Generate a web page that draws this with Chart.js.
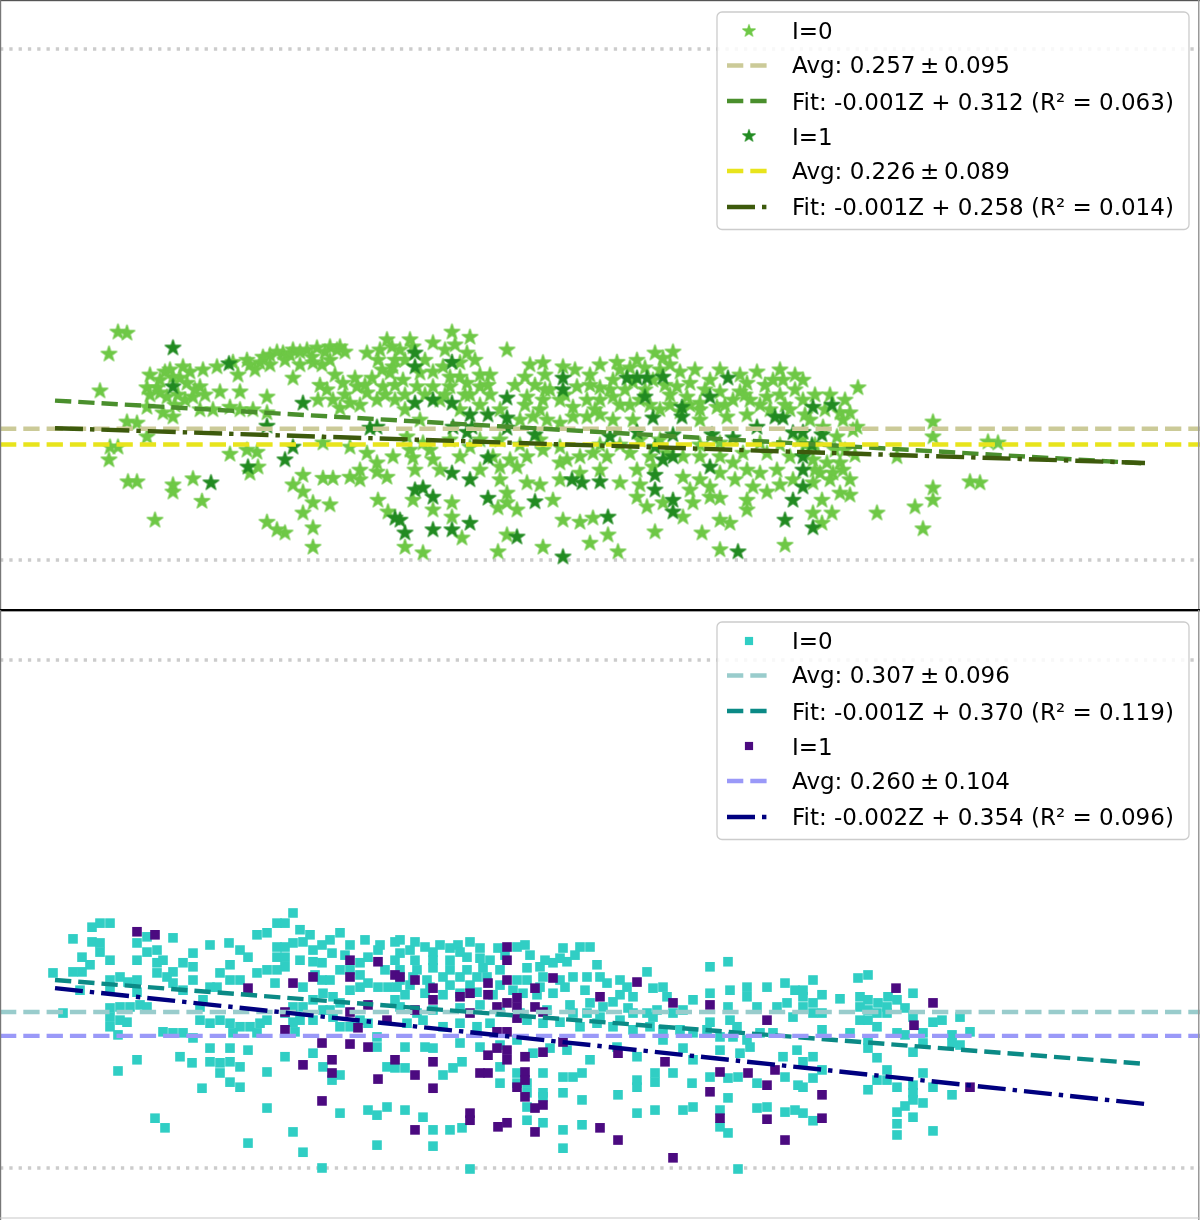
<!DOCTYPE html>
<html><head><meta charset="utf-8">
<script src="https://cdn.jsdelivr.net/npm/chart.js@4.4.1/dist/chart.umd.min.js"></script>
<style>
html,body{margin:0;padding:0;background:#fff;}
#wrap{width:1200px;height:1220px;position:relative;overflow:hidden;}
canvas{display:block;position:absolute;left:0;}
#c1{top:0;} #c2{top:610px;}
</style></head><body>
<div id="wrap"><canvas id="c1" width="1200" height="610"></canvas><canvas id="c2" width="1200" height="610"></canvas></div>
<script>
// ---------------- DATA ----------------
const xRange = [-5.5, 114.5];
const refLevels = [0, 1];
const fitZ = [0, 109];

// top panel (stars)
const topLabels = ['I=0', 'Avg: 0.257\u2009\u00b1\u20090.095', 'Fit: -0.001Z + 0.312 (R\u00b2 = 0.063)', 'I=1', 'Avg: 0.226\u2009\u00b1\u20090.089', 'Fit: -0.001Z + 0.258 (R\u00b2 = 0.014)'];
const topAvg = [0.257, 0.226];
const topFit0 = [0.312, 0.189];
const topFit1 = [0.258, 0.190];
const topI0 = [
[6.3,0.446],[7.2,0.444],[5.4,0.403],[4.5,0.331],[11.0,0.368],[12.8,0.378],[10.2,0.337],[11.8,0.358],[13.2,0.346],[14.5,0.339],[13.8,0.319],[9.2,0.337],[11.2,0.319],[12.3,0.323],[14.8,0.372],[16.2,0.378],[17.8,0.387],[19.2,0.391],[20.5,0.386],[21.5,0.401],[22.8,0.405],[23.8,0.411],[25.2,0.411],[26.2,0.415],[27.5,0.417],[28.5,0.417],[18.3,0.362],[16.5,0.329],[18.5,0.329],[21.2,0.319],[23.8,0.356],[25.8,0.386],[26.7,0.382],[9.2,0.299],[10.8,0.288],[11.8,0.280],[14.5,0.294],[15.8,0.294],[17.5,0.299],[18.5,0.294],[19.8,0.294],[21.2,0.288],[27.2,0.333],[28.8,0.346],[30.2,0.339],[31.2,0.327],[32.2,0.313],[27.8,0.313],[29.5,0.307],[32.8,0.339],[33.5,0.366],[33.2,0.431],[32.3,0.391],[33.7,0.417],[7.2,0.270],[8.2,0.268],[9.2,0.241],[5.5,0.221],[6.3,0.221],[5.4,0.196],[7.3,0.153],[8.2,0.153],[11.8,0.147],[11.8,0.133],[13.8,0.159],[14.7,0.115],[10.0,0.078],[17.5,0.207],[19.2,0.215],[20.2,0.211],[20.3,0.182],[19.5,0.170],[24.8,0.166],[23.8,0.147],[24.8,0.133],[25.8,0.112],[27.5,0.108],[24.8,0.092],[25.8,0.063],[25.8,0.025],[21.2,0.074],[22.2,0.059],[23.0,0.053],[26.8,0.160],[27.8,0.160],[29.5,0.162],[30.5,0.176],[30.5,0.157],[32.2,0.172],[33.2,0.162],[32.3,0.117],[33.3,0.094],[31.2,0.209],[32.2,0.190],[33.8,0.202],[26.8,0.229],[29.5,0.221],[31.2,0.405],[32.7,0.372],[33.8,0.378],
[39.7,0.446],[41.5,0.436],[37.8,0.425],[45.2,0.411],[35.8,0.417],[34.5,0.411],[41.2,0.405],[40.5,0.386],[38.8,0.378],[37.8,0.368],[36.5,0.366],[34.8,0.352],[36.2,0.339],[37.8,0.339],[39.5,0.339],[41.2,0.346],[42.5,0.339],[43.3,0.342],[40.5,0.358],[39.5,0.358],[48.8,0.386],[50.8,0.378],[54.5,0.382],[56.2,0.387],[58.2,0.391],[60.0,0.405],[61.8,0.407],[60.8,0.395],[47.0,0.358],[52.2,0.339],[54.5,0.337],[55.8,0.352],[57.8,0.348],[59.8,0.352],[62.2,0.339],[63.5,0.346],[65.5,0.352],[70.2,0.368],[71.8,0.352],[72.8,0.352],[69.2,0.346],[71.2,0.319],[47.2,0.319],[48.8,0.313],[50.5,0.313],[51.8,0.299],[53.2,0.313],[54.5,0.313],[55.8,0.319],[63.2,0.319],[64.5,0.307],[66.2,0.299],[67.8,0.313],[69.5,0.313],[46.5,0.274],[47.8,0.280],[49.2,0.274],[50.5,0.268],[51.8,0.280],[53.2,0.280],[54.5,0.284],[55.8,0.274],[57.8,0.274],[64.5,0.274],[67.2,0.280],[69.2,0.284],[35.2,0.241],[36.8,0.229],[39.5,0.235],[44.5,0.235],[35.8,0.200],[37.8,0.196],[40.5,0.202],[43.8,0.202],[45.5,0.196],[47.2,0.202],[48.8,0.215],[51.2,0.196],[52.5,0.202],[53.8,0.209],[55.2,0.202],[57.5,0.209],[59.5,0.202],[61.2,0.209],[62.8,0.202],[64.5,0.202],[66.5,0.202],[68.8,0.209],[71.2,0.209],[73.5,0.202],[42.5,0.176],[44.5,0.182],[46.2,0.182],[47.2,0.151],[50.5,0.190],[52.5,0.170],[54.5,0.176],[58.2,0.176],[59.8,0.182],[62.8,0.162],[64.5,0.157],[66.5,0.170],[67.8,0.190],[69.2,0.176],[70.5,0.170],[72.2,0.176],[73.8,0.157],[69.8,0.143],[71.2,0.133],[35.8,0.117],[37.8,0.098],[39.7,0.112],[39.7,0.084],[45.2,0.131],[45.2,0.112],[44.3,0.102],[46.2,0.098],[49.8,0.117],[58.2,0.123],[59.2,0.104],[60.8,0.112],[63.8,0.112],[65.5,0.123],[66.5,0.121],[69.2,0.117],[69.2,0.098],[50.8,0.078],[52.5,0.074],[53.8,0.082],[62.8,0.084],[66.5,0.078],[67.5,0.072],[35.0,0.025],[36.8,0.014],[40.7,0.043],[45.2,0.049],[48.8,0.025],[53.5,0.033],[55.3,0.049],[56.3,0.016],[60.0,0.055],[64.7,0.053],[66.5,0.020],[73.0,0.029],[44.3,0.016],
[38.5,0.313],[40.5,0.294],[42.5,0.303],[44.5,0.294],[56.5,0.303],[58.5,0.313],[60.5,0.294],[62.5,0.290],[66.5,0.329],[68.5,0.329],[70.5,0.303],[72.5,0.323],[73.5,0.294],[74.0,0.333],[35.0,0.294],[36.5,0.274],[41.5,0.323],[43.5,0.323],[46.0,0.342],[48.0,0.342],[49.5,0.333],[53.5,0.342],[57.0,0.333],[59.0,0.333],[61.5,0.323],[65.0,0.333],
[74.8,0.352],[80.3,0.337],[74.8,0.313],[78.5,0.288],[79.5,0.288],[78.8,0.274],[76.8,0.260],[78.2,0.241],[79.8,0.254],[80.2,0.260],[87.8,0.270],[87.8,0.241],[93.3,0.231],[94.3,0.229],[84.2,0.202],[75.8,0.196],[77.2,0.190],[78.5,0.190],[76.5,0.170],[77.8,0.170],[78.8,0.176],[75.8,0.151],[77.5,0.157],[76.7,0.117],[78.5,0.131],[79.5,0.127],[75.8,0.092],[77.7,0.092],[76.7,0.072],[87.8,0.141],[87.8,0.117],[86.0,0.104],[86.8,0.061],[82.2,0.092],[91.5,0.153],[92.5,0.151],[75.5,0.274],[77.5,0.323],[79.0,0.313],[76.0,0.225],[74.5,0.235],
[20.8,0.397],[22.2,0.407],[23.5,0.401],[24.5,0.407],[25.7,0.397],[27.0,0.407],[28.2,0.411],[29.0,0.407],[21.5,0.382],[23.0,0.391],[19.5,0.382],[20.0,0.372],[24.5,0.382],[27.5,0.391],[9.5,0.362],[10.5,0.352],[11.5,0.372],[12.5,0.356],[13.5,0.368],[14.0,0.333],[13.0,0.313],[10.5,0.327],[9.5,0.323],[15.0,0.323],[12.0,0.303],[26.5,0.342],[28.0,0.362],[29.0,0.323],[30.0,0.356],[31.0,0.342],[31.7,0.356],[33.0,0.323],[34.0,0.313],[28.5,0.297],[30.5,0.303],[26.3,0.313],[34.0,0.342],[32.5,0.411],[34.0,0.391],
[35.0,0.391],[37.0,0.391],[39.0,0.411],[40.0,0.421],[42.0,0.391],[35.0,0.323],[37.0,0.323],[39.0,0.323],[41.0,0.323],[42.5,0.362],[43.5,0.362],[35.5,0.431],[47.5,0.382],[49.0,0.362],[52.0,0.372],[53.5,0.362],[56.5,0.372],[57.5,0.376],[59.0,0.376],[60.5,0.372],[61.5,0.382],[62.5,0.368],[49.0,0.333],[51.0,0.323],[54.0,0.294],[55.5,0.333],[57.5,0.303],[59.5,0.303],[61.5,0.303],[63.5,0.303],[61.0,0.342],[48.5,0.294],[47.0,0.303],[64.0,0.372],[66.5,0.372],[68.5,0.362],[71.0,0.342],[72.5,0.372],[74.0,0.362],[67.0,0.303],[69.0,0.323],[71.5,0.294],[73.0,0.303],[64.5,0.294],
[35.5,0.215],[37.5,0.215],[41.5,0.221],[42.5,0.235],[46.5,0.225],[48.5,0.235],[50.5,0.221],[54.5,0.225],[56.5,0.225],[58.5,0.235],[60.5,0.235],[64.5,0.225],[66.5,0.229],[70.5,0.229],[72.5,0.225],[36.0,0.176],[38.5,0.176],[44.5,0.157],[48.5,0.147],[50.5,0.157],[56.5,0.151],[58.5,0.147],[63.5,0.137],[65.5,0.143],[68.0,0.157],[72.5,0.147],[75.0,0.284],[76.0,0.323],[77.0,0.294],[79.0,0.215],[80.0,0.205],[78.0,0.215],[76.0,0.176],[79.5,0.157],[75.0,0.225]
];
const topI1 = [
[11.8,0.415],[17.4,0.384],[11.8,0.339],[24.8,0.307],[21.2,0.262],[31.5,0.258],[32.2,0.260],[23.8,0.221],[23.0,0.196],[19.3,0.182],[15.6,0.151],[34.0,0.082],[36.0,0.405],[36.0,0.378],[39.7,0.387],[50.8,0.356],[50.8,0.333],[57.2,0.356],[58.2,0.356],[59.2,0.356],[60.8,0.358],[59.0,0.319],[67.3,0.356],[45.2,0.317],[36.0,0.307],[37.8,0.313],[39.7,0.307],[41.5,0.284],[43.3,0.284],[45.2,0.278],[45.2,0.258],[41.7,0.260],[62.7,0.299],[62.7,0.280],[65.5,0.319],[59.8,0.278],[72.0,0.280],[72.8,0.278],[70.2,0.260],[73.8,0.249],[39.8,0.260],[41.2,0.250],[48.0,0.245],[55.5,0.241],[65.7,0.245],[67.8,0.239],[58.2,0.250],[61.8,0.245],[60.0,0.221],[60.8,0.196],[61.8,0.202],[43.3,0.200],[65.5,0.182],[39.7,0.170],[41.5,0.157],[51.7,0.157],[52.7,0.151],[54.5,0.153],[60.0,0.166],[60.0,0.137],[36.0,0.137],[36.8,0.141],[37.8,0.123],[43.3,0.121],[48.0,0.114],[61.8,0.117],[61.8,0.094],[73.8,0.117],[34.5,0.078],[35.0,0.053],[37.8,0.059],[39.7,0.059],[41.5,0.072],[46.2,0.045],[55.3,0.084],[73.0,0.078],[50.8,0.006],[68.3,0.016],[75.8,0.299],[77.7,0.303],[74.8,0.250],[76.7,0.245],[75.7,0.225],[74.8,0.202],[74.8,0.176],[74.8,0.143],[75.8,0.063]
];

// bottom panel (squares)
const botLabels = ['I=0', 'Avg: 0.307\u2009\u00b1\u20090.096', 'Fit: -0.001Z + 0.370 (R\u00b2 = 0.119)', 'I=1', 'Avg: 0.260\u2009\u00b1\u20090.104', 'Fit: -0.002Z + 0.354 (R\u00b2 = 0.096)'];
const botAvg = [0.307, 0.260];
const botFit0 = [0.370, 0.205];
const botFit1 = [0.354, 0.126];
const botI0 = [
[-0.2,0.384],[1.8,0.451],[3.7,0.474],[4.5,0.482],[5.5,0.482],[3.7,0.445],[4.5,0.443],[4.5,0.425],[2.7,0.415],[3.5,0.400],[1.8,0.386],[2.7,0.386],[0.8,0.305],[2.5,0.350],[5.5,0.409],[5.5,0.370],[6.5,0.376],[7.3,0.366],[8.2,0.370],[8.2,0.346],[5.5,0.350],[8.2,0.443],[9.2,0.455],[8.2,0.409],[9.2,0.425],[10.2,0.429],[10.2,0.404],[10.8,0.409],[10.2,0.384],[11.2,0.376],[11.8,0.453],[12.8,0.404],[13.8,0.423],[13.8,0.396],[13.8,0.370],[12.8,0.350],[11.8,0.364],[11.8,0.386],[5.5,0.315],[6.5,0.317],[5.5,0.297],[6.5,0.291],[7.2,0.287],[7.5,0.317],[8.5,0.321],[9.2,0.317],[5.5,0.278],[6.3,0.262],[8.2,0.213],[6.3,0.191],[10.0,0.098],[11.0,0.079],
[15.5,0.439],[17.4,0.443],[18.5,0.429],[17.5,0.400],[16.5,0.384],[17.5,0.370],[18.5,0.370],[16.2,0.356],[15.5,0.356],[14.8,0.331],[14.5,0.317],[14.5,0.291],[15.5,0.285],[16.5,0.291],[17.5,0.285],[18.5,0.278],[19.5,0.278],[20.5,0.285],[21.2,0.291],[20.2,0.266],[17.8,0.266],[10.8,0.268],[11.8,0.266],[12.8,0.266],[13.8,0.256],[12.5,0.219],[13.7,0.207],[15.5,0.236],[15.5,0.209],[16.5,0.207],[17.5,0.209],[17.5,0.236],[18.5,0.199],[16.5,0.187],[17.5,0.169],[18.5,0.159],[14.7,0.157],[19.3,0.232],[21.2,0.189],[21.2,0.118],[19.3,0.049],[23.0,0.219],[23.8,0.071],[24.8,0.031],
[19.3,0.415],[20.2,0.459],[21.2,0.463],[22.2,0.482],[23.0,0.482],[23.8,0.502],[22.2,0.435],[23.0,0.435],[22.2,0.415],[23.0,0.415],[23.8,0.443],[24.8,0.445],[25.8,0.429],[26.7,0.439],[27.7,0.423],[23.0,0.396],[22.2,0.390],[21.2,0.390],[20.2,0.384],[22.0,0.364],[24.8,0.356],[25.8,0.406],[26.7,0.404],[26.7,0.370],[27.5,0.370],[28.5,0.463],[28.5,0.390],[29.5,0.390],[30.5,0.404],[31.3,0.415],[32.3,0.429],[34.0,0.445],[34.0,0.409],[29.5,0.350],[30.5,0.356],[31.3,0.364],[32.3,0.356],[33.3,0.356],[34.2,0.356],[23.8,0.317],[24.8,0.317],[25.8,0.291],[26.8,0.311],[27.8,0.297],[28.5,0.278],[29.5,0.278],[30.5,0.291],[31.3,0.285],[28.5,0.325],[27.8,0.337],[26.8,0.344],[25.8,0.331],[24.5,0.291],[25.8,0.226],[26.8,0.199],[28.5,0.183],[27.7,0.173],[32.2,0.258],[32.2,0.238],[33.2,0.199],[34.0,0.197],[28.5,0.108],[31.3,0.114],[32.2,0.104],[33.2,0.120],[32.2,0.045],[26.7,0.000],[23.0,0.305],[23.8,0.287],[24.0,0.268],
[34.5,0.449],[36.0,0.445],[37.0,0.435],[37.8,0.425],[39.5,0.433],[40.3,0.439],[41.5,0.445],[34.5,0.423],[36.0,0.409],[37.8,0.409],[39.5,0.409],[41.2,0.415],[42.5,0.413],[43.5,0.409],[44.3,0.433],[46.2,0.435],[47.0,0.439],[34.5,0.390],[36.2,0.390],[37.8,0.394],[39.5,0.390],[41.2,0.390],[42.8,0.394],[44.5,0.390],[47.2,0.394],[48.5,0.396],[49.8,0.404],[51.2,0.406],[52.5,0.435],[53.5,0.435],[50.8,0.433],[34.5,0.370],[35.8,0.376],[37.2,0.370],[38.8,0.376],[40.5,0.376],[42.2,0.376],[43.2,0.376],[46.2,0.370],[47.2,0.370],[48.8,0.376],[50.5,0.370],[51.8,0.376],[53.2,0.376],[54.2,0.400],[54.5,0.376],[55.2,0.364],[56.5,0.370],[57.2,0.356],[59.2,0.386],[56.5,0.341],[57.8,0.337],[59.8,0.354],[60.8,0.356],[61.2,0.337],
[35.0,0.341],[37.0,0.344],[38.8,0.341],[40.5,0.344],[42.2,0.346],[43.8,0.341],[45.8,0.350],[46.8,0.344],[48.2,0.341],[49.8,0.344],[51.5,0.321],[53.5,0.325],[54.8,0.317],[55.8,0.327],[57.3,0.315],[59.2,0.305],[60.2,0.311],[34.5,0.317],[36.2,0.305],[37.8,0.311],[40.5,0.315],[42.5,0.321],[44.5,0.307],[46.5,0.305],[49.2,0.311],[51.8,0.305],[53.2,0.305],[54.5,0.297],[56.5,0.291],[57.8,0.305],[59.8,0.297],[61.8,0.305],[62.8,0.311],[63.8,0.331],[65.5,0.396],[67.3,0.406],[65.5,0.344],[67.5,0.350],[69.2,0.356],[71.2,0.356],[73.0,0.364],[74.0,0.350],[69.2,0.337],[70.2,0.317],[72.2,0.317],[73.2,0.325],[65.5,0.287],[67.3,0.317],[67.5,0.291],[68.2,0.278],[73.8,0.297],
[35.2,0.285],[36.8,0.291],[38.8,0.278],[40.5,0.285],[42.2,0.278],[43.5,0.285],[47.2,0.291],[48.8,0.285],[50.5,0.287],[52.5,0.278],[54.2,0.285],[55.8,0.278],[57.8,0.272],[59.5,0.278],[60.8,0.272],[62.5,0.272],[63.8,0.266],[65.2,0.272],[66.5,0.258],[67.8,0.258],[69.2,0.252],[70.5,0.266],[71.8,0.266],
[35.0,0.238],[37.0,0.238],[37.8,0.236],[40.5,0.246],[42.5,0.238],[44.5,0.242],[46.2,0.252],[47.8,0.226],[49.5,0.236],[51.2,0.232],[53.5,0.213],[56.2,0.238],[58.2,0.219],[60.8,0.252],[62.8,0.236],[63.8,0.213],[66.5,0.232],[68.5,0.226],[69.5,0.238],[72.8,0.219],[74.2,0.232],
[35.0,0.197],[38.8,0.183],[39.8,0.197],[40.7,0.209],[44.5,0.199],[46.2,0.187],[47.2,0.167],[44.5,0.167],[46.2,0.167],[48.8,0.187],[50.8,0.179],[51.8,0.179],[52.7,0.187],[50.8,0.148],[48.8,0.148],[47.2,0.148],[52.7,0.134],[56.3,0.144],[58.2,0.173],[58.2,0.159],[60.0,0.187],[60.0,0.169],[61.8,0.187],[63.7,0.167],[65.5,0.179],[67.3,0.177],[68.3,0.179],[70.2,0.167],[73.0,0.179],[74.3,0.163],[67.3,0.138],
[35.0,0.114],[36.8,0.100],[37.8,0.075],[39.5,0.075],[40.7,0.079],[47.2,0.120],[47.2,0.094],[48.8,0.140],[48.8,0.089],[50.8,0.075],[52.7,0.085],[58.2,0.108],[60.0,0.114],[62.8,0.114],[63.8,0.120],[66.5,0.114],[66.5,0.081],[67.3,0.069],[70.2,0.118],[71.2,0.120],[73.0,0.110],[74.0,0.114],[37.8,0.043],[50.8,0.039],[41.5,-0.002],[68.3,-0.002],
[74.8,0.350],[74.8,0.337],[75.8,0.370],[76.7,0.341],[78.5,0.333],[80.3,0.374],[81.3,0.380],[80.5,0.337],[81.3,0.331],[82.3,0.325],[83.3,0.337],[84.2,0.331],[85.8,0.344],[74.8,0.317],[75.8,0.325],[75.8,0.305],[76.7,0.305],[80.5,0.317],[81.3,0.311],[80.5,0.291],[81.3,0.291],[82.2,0.305],[83.2,0.317],[83.2,0.305],[82.2,0.278],[85.0,0.315],[85.8,0.297],[87.8,0.287],[88.7,0.291],[90.5,0.297],
[76.7,0.272],[79.5,0.266],[81.3,0.252],[84.2,0.266],[85.0,0.262],[86.8,0.266],[86.8,0.246],[89.7,0.262],[89.7,0.246],[91.5,0.268],[90.5,0.242],[85.8,0.228],[81.3,0.236],[82.2,0.217],
[74.8,0.209],[75.8,0.219],[76.7,0.193],[75.8,0.177],[74.8,0.159],[83.2,0.193],[82.2,0.173],[83.2,0.173],[81.3,0.154],[84.2,0.159],[85.8,0.163],[85.8,0.148],[86.8,0.187],[87.8,0.159],[89.7,0.144],[85.8,0.134],[85.0,0.122],[86.8,0.128],[84.2,0.110],[85.8,0.100],[84.2,0.087],[84.2,0.065],[87.8,0.073],[74.8,0.108],[75.8,0.093],
[35.5,0.429],[38.5,0.439],[40.5,0.425],[42.5,0.433],[45.0,0.419],[47.5,0.419],[49.0,0.409],[50.5,0.413],[52.0,0.419],[35.5,0.360],[37.5,0.356],[39.5,0.360],[41.5,0.360],[44.5,0.360],[48.5,0.356],[51.0,0.356],[53.0,0.350],[24.5,0.469],[25.5,0.459],[27.5,0.449],[29.5,0.439],[31.0,0.449],[32.5,0.439],[24.5,0.409],[26.0,0.380],[29.0,0.419],[30.5,0.380],[33.0,0.390],[34.0,0.331],[27.5,0.311]
];
const botI1 = [
[8.2,0.465],[10.0,0.459],[19.3,0.354],[23.8,0.364],[25.8,0.376],[29.5,0.409],[29.5,0.376],[32.3,0.406],[34.0,0.380],[23.0,0.307],[23.0,0.272],[29.5,0.307],[31.3,0.321],[30.3,0.276],[33.2,0.291],[26.7,0.246],[29.5,0.244],[31.3,0.238],[24.8,0.203],[27.7,0.213],[27.7,0.187],[32.3,0.175],[34.0,0.213],[26.7,0.132],
[45.2,0.435],[45.2,0.409],[36.0,0.370],[37.8,0.354],[37.8,0.331],[40.5,0.337],[41.5,0.344],[43.3,0.364],[43.3,0.341],[45.2,0.370],[48.0,0.354],[49.8,0.374],[54.5,0.337],[58.2,0.366],[61.8,0.325],[65.5,0.321],[34.5,0.376],[36.0,0.311],[41.5,0.305],[44.2,0.317],[45.2,0.325],[46.2,0.335],[46.2,0.317],[48.0,0.317],[48.8,0.307],[46.2,0.295],[44.2,0.268],[45.2,0.268],[50.8,0.248],[56.3,0.226],[61.0,0.209],[71.2,0.291],[72.0,0.193],[66.5,0.189],[69.3,0.187],[48.8,0.228],[47.0,0.219],[43.3,0.222],[44.2,0.236],[45.2,0.232],[45.2,0.213],[37.8,0.209],[36.0,0.183],[42.5,0.187],[43.3,0.187],[47.0,0.189],[47.0,0.173],[46.2,0.159],[47.0,0.140],[48.0,0.118],[48.8,0.124],[37.8,0.157],[41.5,0.108],[41.5,0.094],[44.3,0.081],[45.2,0.089],[36.0,0.075],[48.0,0.071],[54.5,0.079],[56.3,0.055],[61.8,0.020],[65.5,0.150],[66.5,0.098],[71.2,0.163],[71.2,0.096],[73.0,0.055],
[84.1,0.354],[87.8,0.325],[85.9,0.281],[76.7,0.144],[76.7,0.098],[91.5,0.159]
];

// ---------------- STYLE HELPERS ----------------
const C = {
  starLight:'#6ec846', starDark:'#228b22',
  avgTop0:'#cbca98', fitTop0:'#4a8f2d', avgTop1:'#e8e41c', fitTop1:'#3d5a0c',
  sqTeal:'#30cec4', sqPurple:'#4b0a80',
  avgBot0:'#99cccc', fitBot0:'#0b8a86', avgBot1:'#9a99f8', fitBot1:'#00007f',
  ref:'#cccccc'
};
const LW = 4.4;
const DASH = [16.3, 7];
const DASHDOT = [28, 7, 4.4, 7];

function makeStar(color, R) {
  const s = Math.ceil(R * 2 + 4);
  const c = document.createElement('canvas'); c.width = s; c.height = s;
  const g = c.getContext('2d');
  const cx = s / 2, cy = s / 2;
  g.beginPath();
  for (let i = 0; i < 10; i++) {
    const r = i % 2 === 0 ? R : R * 0.382;
    const a = -Math.PI / 2 + i * Math.PI / 5;
    g.lineTo(cx + r * Math.cos(a), cy + r * Math.sin(a));
  }
  g.closePath();
  g.fillStyle = color; g.fill();
  g.lineJoin = 'round'; g.lineWidth = 1.2; g.strokeStyle = color; g.stroke();
  return c;
}
const starLight = makeStar(C.starLight, 8.2);
const starDark = makeStar(C.starDark, 8.2);

const pts = arr => arr.map(p => ({x: p[0], y: p[1]}));
const hline = v => [{x: xRange[0], y: v}, {x: xRange[1], y: v}];
const fitLine = vals => [{x: fitZ[0], y: vals[0]}, {x: fitZ[1], y: vals[1]}];

function lineDs(label, data, color, dash, order, width) {
  return {label, data, showLine: true, borderColor: color, borderWidth: width || LW, borderDash: dash,
    borderCapStyle: 'butt', pointRadius: 0, pointHoverRadius: 0, fill: false, order, tension: 0};
}
function scatterDs(label, data, style, color, radius, order) {
  return {label, data, showLine: false, pointStyle: style, pointRadius: radius, pointHoverRadius: radius,
    backgroundColor: color, borderColor: color, pointBorderWidth: 0, borderWidth: 0, order};
}

// ---------------- PLUGINS ----------------
const rowY = [31, 65.5, 101, 136, 171, 207];
const rowBase = [39.3, 73.3, 110, 145, 178.5, 215];
const mplLegend = {
  id: 'mplLegend',
  afterDraw(chart, args, o) {
    if (!o || !o.items) return;
    const ctx = chart.ctx; ctx.save();
    const [x0, y0, x1, y1] = o.box, r = 5;
    ctx.beginPath();
    ctx.moveTo(x0 + r, y0); ctx.lineTo(x1 - r, y0); ctx.arcTo(x1, y0, x1, y0 + r, r);
    ctx.lineTo(x1, y1 - r); ctx.arcTo(x1, y1, x1 - r, y1, r);
    ctx.lineTo(x0 + r, y1); ctx.arcTo(x0, y1, x0, y1 - r, r);
    ctx.lineTo(x0, y0 + r); ctx.arcTo(x0, y0, x0 + r, y0, r); ctx.closePath();
    ctx.fillStyle = 'rgba(255,255,255,0.85)'; ctx.fill();
    ctx.lineWidth = 1.3; ctx.strokeStyle = '#cccccc'; ctx.stroke();
    o.items.forEach((it, i) => {
      const ds = chart.data.datasets[it.ds];
      const cy = rowY[i];
      if (it.kind === 'marker') {
        if (ds.pointStyle instanceof HTMLCanvasElement) {
          const w = ds.pointStyle.width * 0.8, h = ds.pointStyle.height * 0.8;
          ctx.drawImage(ds.pointStyle, 749 - w / 2, cy - h / 2, w, h);
        } else {
          const side = ds.pointRadius * Math.SQRT2 * 0.85;
          ctx.fillStyle = ds.backgroundColor; ctx.fillRect(749 - side / 2, cy - side / 2, side, side);
        }
      } else {
        ctx.beginPath(); ctx.setLineDash(ds.borderDash || []); ctx.lineDashOffset = 0;
        ctx.lineCap = 'butt'; ctx.lineWidth = ds.borderWidth; ctx.strokeStyle = ds.borderColor;
        ctx.moveTo(727, cy); ctx.lineTo(769, cy); ctx.stroke(); ctx.setLineDash([]);
      }
      ctx.fillStyle = '#000'; ctx.font = '23px "DejaVu Sans"'; ctx.textBaseline = 'alphabetic'; ctx.textAlign = 'left';
      ctx.fillText(ds.label, 792, rowBase[i]);
    });
    ctx.restore();
  }
};
const frame = {
  id: 'frame',
  afterDraw(chart, args, o) {
    const ctx = chart.ctx; ctx.save();
    (o.rects || []).forEach(rc => { ctx.fillStyle = rc[4]; ctx.fillRect(rc[0], rc[1], rc[2], rc[3]); });
    ctx.restore();
  }
};
Chart.register(mplLegend, frame);

function makeChart(id, datasets, yMin, yMax, legendItems, frameRects) {
  return new Chart(document.getElementById(id), {
    type: 'scatter',
    data: {datasets},
    options: {
      responsive: false, animation: false, devicePixelRatio: 1,
      layout: {padding: 0, autoPadding: false},
      events: [],
      scales: {
        x: {type: 'linear', min: xRange[0], max: xRange[1], display: false},
        y: {type: 'linear', min: yMin, max: yMax, display: false}
      },
      plugins: {
        legend: {display: false}, tooltip: {enabled: false},
        mplLegend: {box: [717, 12, 1189, 229.5], items: legendItems},
        frame: {rects: frameRects}
      }
    }
  });
}

const legendKinds = ['marker', 'line', 'line', 'marker', 'line', 'line'];
const legendDs = [2, 4, 5, 3, 6, 7];

makeChart('c1', [
  lineDs('ref0', hline(refLevels[0]), C.ref, [3.3, 6], 20, 3.3),
  lineDs('ref1', hline(refLevels[1]), C.ref, [3.3, 6], 20, 3.3),
  scatterDs(topLabels[0], pts(topI0), starLight, C.starLight, 8, 12),
  scatterDs(topLabels[3], pts(topI1), starDark, C.starDark, 8, 11),
  lineDs(topLabels[1], hline(topAvg[0]), C.avgTop0, DASH, 8),
  lineDs(topLabels[2], fitLine(topFit0), C.fitTop0, DASH, 7),
  lineDs(topLabels[4], hline(topAvg[1]), C.avgTop1, DASH, 6),
  lineDs(topLabels[5], fitLine(topFit1), C.fitTop1, DASHDOT, 5)
], -0.0978, 1.0959,
  legendKinds.map((k, i) => ({kind: k, ds: legendDs[i]})),
  [[0, 0, 1200, 1.2, '#555555'], [0, 0, 1.2, 610, '#777777'], [1198, 0, 1.5, 610, '#999999'], [0, 609, 1200, 1, '#000000']]
);

makeChart('c2', [
  lineDs('ref0', hline(refLevels[0]), C.ref, [3.3, 6], 20, 3.3),
  lineDs('ref1', hline(refLevels[1]), C.ref, [3.3, 6], 20, 3.3),
  scatterDs(botLabels[0], pts(botI0), 'rect', C.sqTeal, 6.8, 12),
  scatterDs(botLabels[3], pts(botI1), 'rect', C.sqPurple, 6.8, 11),
  lineDs(botLabels[1], hline(botAvg[0]), C.avgBot0, DASH, 8),
  lineDs(botLabels[2], fitLine(botFit0), C.fitBot0, DASH, 7),
  lineDs(botLabels[4], hline(botAvg[1]), C.avgBot1, DASH, 6),
  lineDs(botLabels[5], fitLine(botFit1), C.fitBot1, DASHDOT, 5)
], -0.1024, 1.0984,
  legendKinds.map((k, i) => ({kind: k, ds: legendDs[i]})),
  [[0, 0, 1200, 1.2, '#000000'], [0, 1.2, 1200, 0.8, '#999999'], [0, 0, 1.2, 610, '#777777'], [1198, 0, 1.5, 610, '#999999'], [0, 607.5, 1200, 1, '#c8c8c8']]
);
</script>
</body></html>
